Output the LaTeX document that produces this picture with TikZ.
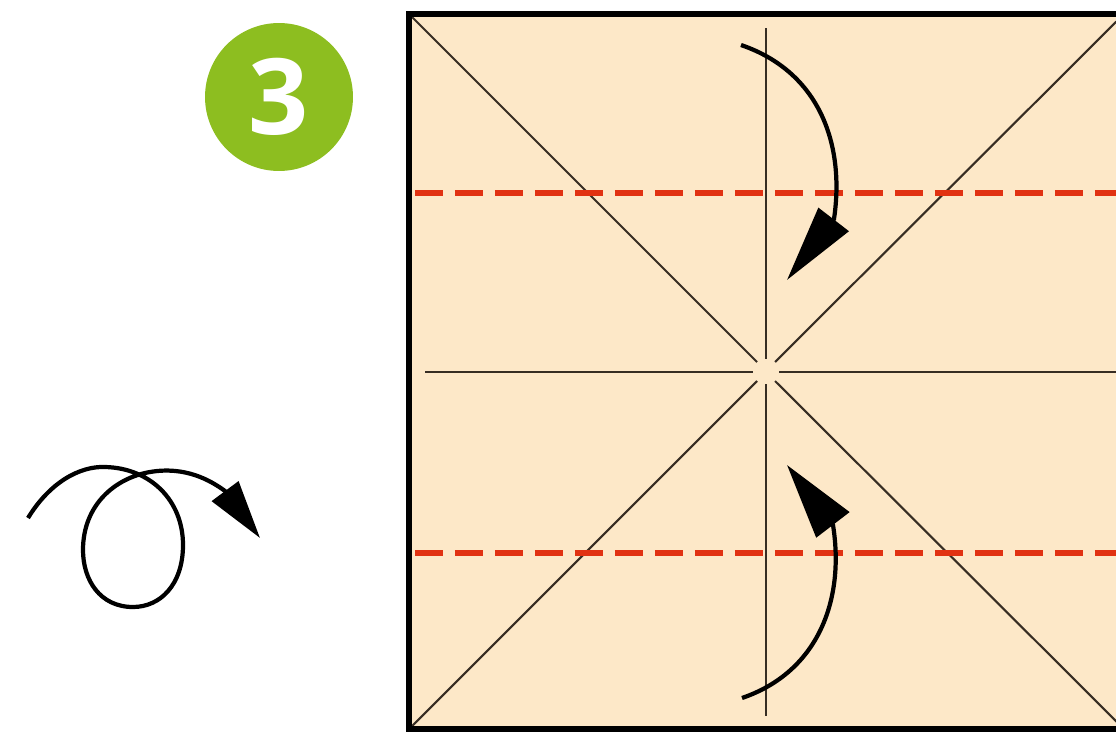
\documentclass[tikz,border=0pt]{standalone}
\usepackage{fontspec}
\newfontfamily\stepfont{Open Sans}
\usetikzlibrary{arrows.meta}
\definecolor{paper}{RGB}{253,232,200}
\definecolor{stepgreen}{RGB}{141,190,32}
\definecolor{foldred}{RGB}{225,50,18}
\definecolor{creasecol}{RGB}{55,45,35}

\begin{document}
\begin{tikzpicture}[
    x=0.02cm, y=-0.02cm,
    crease/.style={draw=creasecol, line width=1.2pt},
    valley/.style={draw=foldred, line width=3.4pt, dash pattern=on 0.56cm off 0.24cm},
    turn/.style={line width=2.4pt, -{Triangle[length=1.53cm, width=0.75cm]}},
    badge/.style={circle, fill=stepgreen, minimum size=2.96cm, inner sep=0pt, text=white, font=\stepfont\bfseries\fontsize{60}{60}\selectfont}
]
\path[use as bounding box, clip] (0,0) rectangle (1116,734);

% Step number
\node (num) [badge] at (279,97) {3};

% Paper square
\fill[paper] (409,14) rectangle (1124,729);

% Creases
\draw[crease] (409,14) -- (757,362);
\draw[crease] (1124,14) -- (775,362);
\draw[crease] (409,729) -- (757,381);
\draw[crease] (1124,729) -- (775,381);
\draw[crease] (425,372) -- (753,372);
\draw[crease] (779,372) -- (1124,372);
\draw[crease] (766,28) -- (766,359);
\draw[crease] (766,384) -- (766,716);

% Valley folds
\draw[valley] (415,193) -- (1124,193);
\draw[valley] (415,553) -- (1124,553);

% Border
\draw[line width=3.3pt] (409,14) rectangle (1124,729);

% Fold arrows
\draw[turn] (741,45) .. controls (820,72) and (845,145) .. (834,219) -- (787,280);
\draw[turn, -{Triangle[length=1.51cm, width=0.82cm]}] (742,698) .. controls (818,672) and (845,600) .. (833,525) -- (787,465);

% Turn over
\draw[line width=2.4pt, -{Triangle[length=1.17cm, width=0.65cm]}]
  (28,518) .. controls (50,482) and (80,466) .. (105,467)
  .. controls (150,468) and (183,500) .. (183,545)
  .. controls (183,585) and (160,607) .. (133,607)
  .. controls (100,607) and (83,580) .. (83,550)
  .. controls (83,505) and (115,478) .. (150,472)
  .. controls (185,466) and (210,480) .. (225,491) -- (260,538);

\end{tikzpicture}
\end{document}
